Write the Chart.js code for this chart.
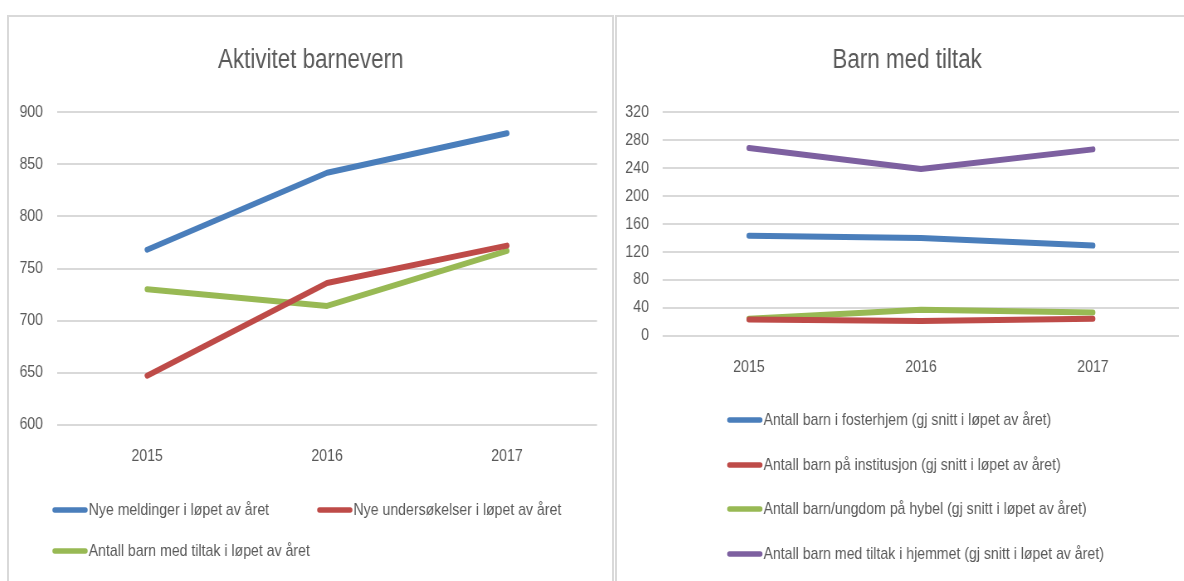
<!DOCTYPE html>
<html><head><meta charset="utf-8">
<script src="https://cdn.jsdelivr.net/npm/chart.js@4/dist/chart.umd.min.js"></script>
<style>
html,body{margin:0;padding:0;background:#fff;width:1184px;height:581px;overflow:hidden;position:relative}
.box{position:absolute;border:2px solid #d9d9d9;box-sizing:border-box;background:#fff}
#boxL{left:7px;top:15px;width:607px;height:620px}
#boxR{left:615px;top:15px;width:600px;height:620px}
canvas{position:absolute;transform-origin:0 0;transform:scaleX(0.83)}
</style></head><body>
<div class="box" id="boxL"></div><div class="box" id="boxR"></div>
<canvas id="cL" width="727" height="564" style="left:9px;top:17px;width:727px;height:564px"></canvas>
<canvas id="cR" width="699" height="564" style="left:617px;top:17px;width:699px;height:564px"></canvas>
<script>
// ---- data ----
const categories = ['2015', '2016', '2017'];

const leftTitle = 'Aktivitet barnevern';
const leftLabels = ['Nye meldinger i løpet av året', 'Nye undersøkelser i løpet av året', 'Antall barn med tiltak i løpet av året'];
const nyeMeldinger = [768, 842, 880];
const nyeUndersokelser = [647, 736, 772];
const barnMedTiltak = [730, 714, 767];

const rightTitle = 'Barn med tiltak';
const rightLabels = ['Antall barn i fosterhjem (gj snitt i løpet av året)', 'Antall barn på institusjon (gj snitt i løpet av året)', 'Antall barn/ungdom på hybel (gj snitt i løpet av året)', 'Antall barn med tiltak i hjemmet (gj snitt i løpet av året)'];
const fosterhjem = [143, 140, 129];
const institusjon = [23, 21, 24];
const hybel = [24, 37, 33];
const hjemmet = [269, 239, 267];

// ---- styles ----
const FONT = "'Liberation Sans Narrow', 'Liberation Sans', sans-serif";
const TXT = '#595959';
const BLUE = '#4a7ebb', RED = '#be4b48', GREEN = '#98b954', PURPLE = '#7d60a0';

const lineLegend = {
  id: 'lineLegend',
  afterDraw(chart, args, opts) {
    const ctx = chart.ctx;
    ctx.save();
    ctx.font = opts.size + 'px ' + FONT;
    ctx.textBaseline = 'middle';
    ctx.textAlign = 'left';
    chart.data.datasets.forEach((ds, i) => {
      const p = opts.positions[i];
      ctx.strokeStyle = ds.borderColor;
      ctx.lineWidth = 5.5;
      ctx.lineCap = 'round';
      ctx.beginPath();
      ctx.moveTo(p[0] + 3, p[1]);
      ctx.lineTo(p[0] + opts.swatch - 3, p[1]);
      ctx.stroke();
      ctx.fillStyle = opts.color;
      ctx.fillText(ds.label, p[0] + opts.swatch + 1, p[1]);
    });
    ctx.restore();
  }
};

function ds(label, data, color) {
  return { label, data, borderColor: color, backgroundColor: color, borderWidth: 6,
    borderCapStyle: 'round', borderJoinStyle: 'round', pointRadius: 0, pointHoverRadius: 0, tension: 0, fill: false };
}

function makeOpts(title, yMin, yMax, step, yWidth, rightWidth, padBottom, legendPos) {
  return {
    responsive: false, animation: false, events: [],
    layout: { padding: { left: 0, right: 0, top: 0, bottom: padBottom } },
    plugins: {
      legend: { display: false }, tooltip: { enabled: false },
      title: { display: true, text: title, color: TXT, font: { family: FONT, size: 27, weight: 'normal' }, padding: { top: 27, bottom: 36 } },
      lineLegend: { positions: legendPos, swatch: 43, size: 17, color: TXT }
    },
    scales: {
      x: { type: 'category', offset: true,
        grid: { display: false, drawTicks: false }, border: { display: false },
        ticks: { color: TXT, font: { family: FONT, size: 17 }, padding: 22, maxRotation: 0 } },
      y: { min: yMin, max: yMax,
        grid: { color: '#d9d9d9', lineWidth: 2, drawTicks: false }, border: { display: false },
        ticks: { stepSize: step, color: TXT, font: { family: FONT, size: 17 }, padding: 17 },
        afterFit(s) { s.width = yWidth; } },
      spacer: { type: 'linear', position: 'right', display: true,
        grid: { display: false, drawTicks: false }, border: { display: false },
        ticks: { display: false },
        afterFit(s) { s.width = rightWidth; } }
    }
  };
}

new Chart(document.getElementById('cL'), {
  type: 'line',
  data: { labels: categories, datasets: [
    ds(leftLabels[0], nyeMeldinger, BLUE),
    ds(leftLabels[1], nyeUndersokelser, RED),
    ds(leftLabels[2], barnMedTiltak, GREEN)
  ]},
  options: makeOpts(leftTitle, 600, 900, 50, 58, 18.6, 92, [[52, 493], [371, 493], [52, 534]]),
  plugins: [lineLegend]
});

new Chart(document.getElementById('cR'), {
  type: 'line',
  data: { labels: categories, datasets: [
    ds(rightLabels[0], fosterhjem, BLUE),
    ds(rightLabels[1], institusjon, RED),
    ds(rightLabels[2], hybel, GREEN),
    ds(rightLabels[3], hjemmet, PURPLE)
  ]},
  options: makeOpts(rightTitle, 0, 320, 40, 55.4, 22, 181, [[132.5, 403], [132.5, 448], [132.5, 492], [132.5, 537]]),
  plugins: [lineLegend]
});
</script>
</body></html>
